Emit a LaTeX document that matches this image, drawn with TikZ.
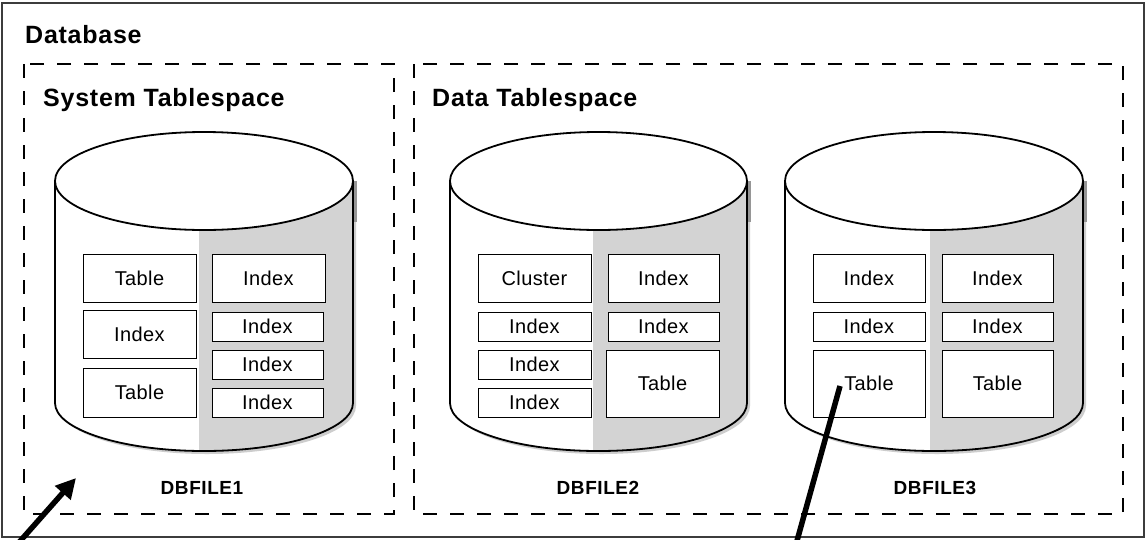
\documentclass[tikz,border=0pt]{standalone}
\usepackage{fontspec}
\setmainfont{Liberation Sans}
\newfontfamily\boxfont[LetterSpace=2]{Liberation Sans}
\newfontfamily\titlefont[LetterSpace=3]{Liberation Sans}
\newfontfamily\filefont[LetterSpace=3]{Liberation Sans}
\usetikzlibrary{arrows.meta}
\definecolor{cylgray}{RGB}{211,211,211}
\definecolor{shadowdark}{RGB}{150,150,150}
\definecolor{shadowlight}{RGB}{205,205,205}
\definecolor{bordergray}{RGB}{60,60,60}
\tikzset{
  tsbox/.style={draw=black, line width=1.3pt, dash pattern=on 14pt off 13pt},
  objbox/.style={draw=black, fill=white, line width=1pt, inner sep=0pt, font=\boxfont\fontsize{20}{22}\selectfont},
  titletext/.style={font=\titlefont\fontsize{25}{28}\bfseries\selectfont, anchor=base west, inner sep=0pt},
  filetext/.style={font=\filefont\fontsize{19}{22}\bfseries\selectfont, inner sep=0pt},
  pointer/.style={line width=5.5pt, black},
}
% cylinder: #1 left x, #2 right x, #3 split x
\newcommand\dbcylinder[3]{%
  \pgfmathsetmacro\cx{(#1+#2)/2}%
  \pgfmathsetmacro\rx{(#2-#1)/2}%
  % shadow
  \fill[shadowlight] (#1+3,181+3) -- (#1+3,403+3) arc[start angle=180,end angle=360,x radius=\rx,y radius=-48] -- (#2+3,181+3) -- cycle;
  \fill[shadowdark] (#2,181) rectangle (#2+4,222);
  % body
  \fill[white] (#1,181) -- (#1,403) arc[start angle=180,end angle=360,x radius=\rx,y radius=-48] -- (#2,181) -- cycle;
  \begin{scope}
    \clip (#1,181) -- (#1,403) arc[start angle=180,end angle=360,x radius=\rx,y radius=-48] -- (#2,181) -- cycle;
    \fill[cylgray] (#3,150) rectangle (#2+5,470);
  \end{scope}
  \draw[line width=1.8pt] (#1,181) -- (#1,403) arc[start angle=180,end angle=360,x radius=\rx,y radius=-48] -- (#2,181);
  \draw[line width=1.8pt, fill=white] (\cx,181) ellipse[x radius=\rx, y radius=49];
}
\begin{document}
\begin{tikzpicture}[x=1pt,y=-1pt]
\useasboundingbox (0,0) rectangle (1146,539);
\clip (0,0) rectangle (1146,539);
\fill[white] (0,0) rectangle (1146,539);
\draw[bordergray, line width=2pt] (2,3) rectangle (1144,537);

\node[titletext] (db) at (25,43) {Database};
\draw[tsbox] (24,64) rectangle (394,514);
\draw[tsbox] (414,64) rectangle (1123,514);
\node[titletext] (sys) at (43,106) {System Tablespace};
\node[titletext] (data) at (432,106) {Data Tablespace};

\dbcylinder{55}{353}{199}
\dbcylinder{450}{747}{593}
\dbcylinder{785}{1083}{930}

% DBFILE1
\node[objbox, minimum width=113pt, minimum height=48pt] (c1t1) at (139.5,278) {Table};
\node[objbox, minimum width=113pt, minimum height=48pt] (c1i1) at (139.5,334) {Index};
\node[objbox, minimum width=113pt, minimum height=49pt] (c1t2) at (139.5,392.5) {Table};
\node[objbox, minimum width=113pt, minimum height=48pt] (c1i2) at (268.5,278) {Index};
\node[objbox, minimum width=111pt, minimum height=29pt] (c1i3) at (267.5,326.5) {Index};
\node[objbox, minimum width=111pt, minimum height=29pt] (c1i4) at (267.5,364.5) {Index};
\node[objbox, minimum width=111pt, minimum height=29pt] (c1i5) at (267.5,402.5) {Index};

% DBFILE2
\node[objbox, minimum width=113pt, minimum height=48pt] (c2c) at (534.5,278) {Cluster};
\node[objbox, minimum width=113pt, minimum height=29pt] (c2i1) at (534.5,326.5) {Index};
\node[objbox, minimum width=113pt, minimum height=29pt] (c2i2) at (534.5,364.5) {Index};
\node[objbox, minimum width=113pt, minimum height=29pt] (c2i3) at (534.5,402.5) {Index};
\node[objbox, minimum width=111pt, minimum height=48pt] (c2i4) at (663.5,278) {Index};
\node[objbox, minimum width=111pt, minimum height=29pt] (c2i5) at (663.5,326.5) {Index};
\node[objbox, minimum width=113pt, minimum height=67pt] (c2t) at (662.5,383.5) {Table};

% DBFILE3
\node[objbox, minimum width=112pt, minimum height=48pt] (c3i1) at (869,278) {Index};
\node[objbox, minimum width=112pt, minimum height=29pt] (c3i2) at (869,326.5) {Index};
\node[objbox, minimum width=112pt, minimum height=67pt] (c3t1) at (869,383.5) {Table};
\node[objbox, minimum width=111pt, minimum height=48pt] (c3i3) at (997.5,278) {Index};
\node[objbox, minimum width=111pt, minimum height=29pt] (c3i4) at (997.5,326.5) {Index};
\node[objbox, minimum width=111pt, minimum height=67pt] (c3t2) at (997.5,383.5) {Table};

\node[filetext] (f1) at (202,488) {DBFILE1};
\node[filetext] (f2) at (598,488) {DBFILE2};
\node[filetext] (f3) at (935,488) {DBFILE3};

% pointers
\coordinate (a1s) at (14,548);
\coordinate (a1e) at (76,478);
\draw[pointer, -{Triangle[length=20pt,width=20pt]}] (a1s) -- (a1e);
\coordinate (l2s) at (840,386);
\coordinate (l2e) at (795,548);
\draw[pointer] (l2s) -- (l2e);
\end{tikzpicture}
\end{document}
